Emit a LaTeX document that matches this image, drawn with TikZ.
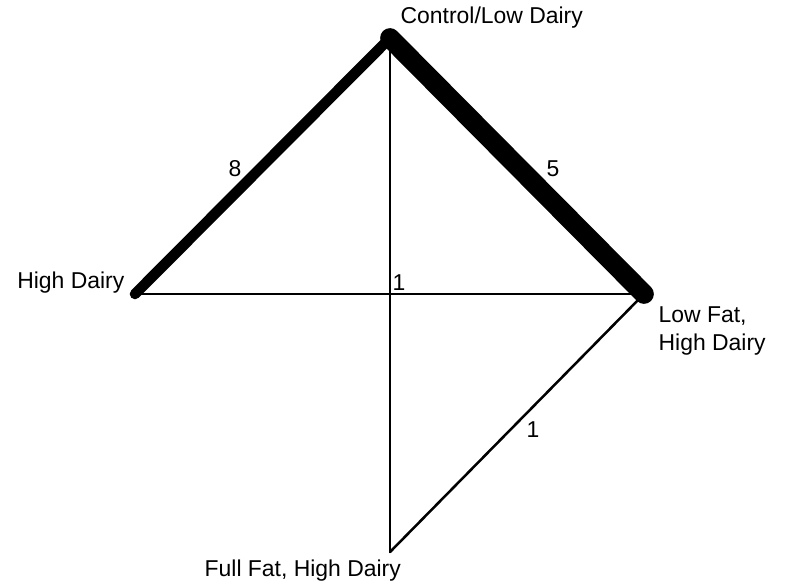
\documentclass[tikz,border=0pt]{standalone}
\usepackage{fontspec}
\setmainfont{Liberation Sans}
\usetikzlibrary{positioning}

\begin{document}
\begin{tikzpicture}[x=0.025cm, y=-0.025cm, line join=round, line cap=round,
        font=\fontsize{16.3}{20}\selectfont,
        edge/.style={line width=#1},
        lbl/.style={inner sep=1pt}]
        \useasboundingbox (0,0) rectangle (785,585);
        % treatments
        \coordinate (ctrl) at (390,38);
        \coordinate (high) at (135,294);
        \coordinate (low) at (644,294);
        \coordinate (full) at (390,552);
        \node[lbl, anchor=west] (tctrl) at (399,18) {Control/Low Dairy};
        \node[lbl, anchor=east] (thigh) at (126,283) {High Dairy};
        \node[lbl, anchor=north west, align=left] (tlow) at (657,305) {Low Fat,\\High Dairy};
        \node[lbl, anchor=west] (tfull) at (203,571) {Full Fat, High Dairy};
        % comparisons
        \draw[edge=1.8pt] (high) -- (low);
        \draw[edge=1.8pt] (ctrl) -- (full);
        \draw[edge=1.8pt] (low) -- (full);
        \draw[edge=7.5pt] (ctrl) -- (high);
        \draw[edge=14pt] (ctrl) -- (low);
        \node[lbl] (n8) at (235,169) {8};
        \node[lbl] (n5) at (553,169) {5};
        \node[lbl] (n1a) at (399,283) {1};
        \node[lbl] (n1b) at (533,430) {1};
\end{tikzpicture}
\end{document}
